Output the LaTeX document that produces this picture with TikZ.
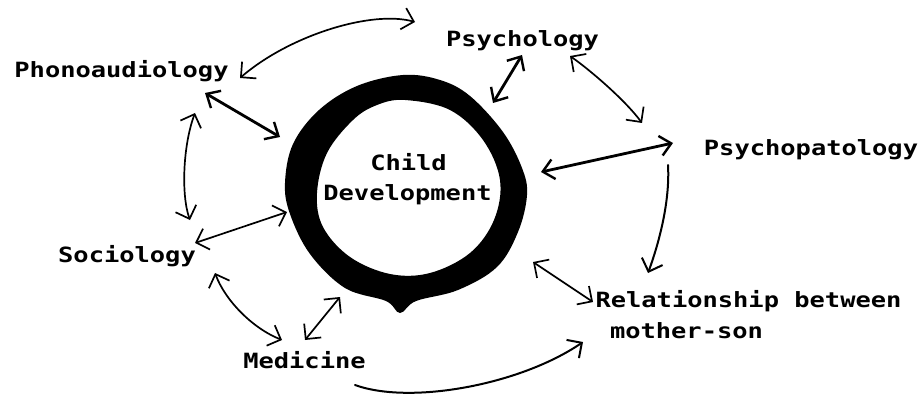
\documentclass[tikz,border=0pt]{standalone}
\usepackage{fontspec}
\setmonofont[FakeStretch=1.21]{DejaVu Sans Mono}
\usetikzlibrary{arrows.meta}
\begin{document}
\begin{tikzpicture}[x=1pt,y=-1pt,
  lbl/.style={font=\ttfamily\bfseries\fontsize{21}{27}\selectfont, inner sep=0pt, outer sep=0pt, anchor=base},
  barb/.tip={Straight Barb[length=11pt,width=22pt,line width=1.7pt]},
  heavybarb/.tip={Straight Barb[length=11pt,width=20pt,line width=2.4pt]},
  link/.style={line width=1.7pt, barb-barb, line cap=round},
  strong/.style={line width=2.8pt, heavybarb-heavybarb, line cap=round},
  oneway/.style={line width=2pt, -{Straight Barb[length=11pt,width=22pt,line width=2pt]}, line cap=round}
]
\useasboundingbox (0,0) rectangle (920,401);

% thick hand-drawn ring around the central topic
\fill[black, even odd rule]
  plot[smooth cycle, tension=0.6] coordinates {
    (403,75) (440,80) (470,96) (503,132) (522,168) (527,195) (518,232)
    (497,267) (458,290) (416,301) (400,313) (386,301) (345,288) (310,254)
    (290,214) (285,183) (293,144) (319,110) (357,86)}
  plot[smooth cycle, tension=0.6] coordinates {
    (405,100) (450,110) (483,140) (500,180) (494,220) (470,253) (430,273)
    (390,274) (350,257) (323,227) (317,193) (327,153) (353,120) (377,105)};

% labels
\node[lbl] (child) at (408.5,170) {Child};
\node[lbl] (dev) at (407.5,200) {Development};
\node[lbl] (phono) at (121.5,78) {Phonoaudiology};
\node[lbl] (psy) at (522.5,47) {Psychology};
\node[lbl] (psypat) at (811,155) {Psychopatology};
\node[lbl] (soc) at (127,262) {Sociology};
\node[lbl] (med) at (304.5,368) {Medicine};
\node[lbl] (rel) at (748.5,307) {Relationship between};
\node[lbl, anchor=base west] (relb) at (610,338) {mother-son};

% points where arrows touch the ring
\coordinate (rPhono) at (280,137);
\coordinate (rPsy) at (493,103);
\coordinate (rPat) at (541,172);
\coordinate (rRel) at (533,262);
\coordinate (rMed) at (340,297);
\coordinate (rSoc) at (287,212);

% links to the central ring
\draw[strong] ([shift={(83.5,15)}]phono.base) -- (rPhono);
\draw[strong] ([shift={(-0.5,8)}]psy.base) -- (rPsy);
\draw[strong] ([shift={(-138,-12)}]psypat.base) -- (rPat);
\draw[link] ([shift={(-155.5,-5)}]rel.base) -- (rRel);
\draw[link] ([shift={(0.5,-28)}]med.base) -- (rMed);
\draw[link] ([shift={(68,-19)}]soc.base) -- (rSoc);

% links between the outer fields
\draw[link] ([shift={(118.5,0)}]phono.base) .. controls (290,35) and (372,10) .. ([shift={(-107.5,-25)}]psy.base);
\draw[link] ([shift={(47.5,9)}]psy.base) .. controls (590,70) and (625,100) .. ([shift={(-169,-32)}]psypat.base);
\draw[oneway] ([shift={(-143,10)}]psypat.base) .. controls (670,200) and (660,240) .. ([shift={(-100.5,-34)}]rel.base);
\draw[oneway] ([shift={(50.5,17)}]med.base) .. controls (410,405) and (520,385) .. ([shift={(-27,4)}]relb.base west);
\draw[link] ([shift={(88,11)}]soc.base) .. controls (225,300) and (252,328) .. ([shift={(-22.5,-28)}]med.base);
\draw[link] ([shift={(73.5,35)}]phono.base) .. controls (183,145) and (181,195) .. ([shift={(63,-42)}]soc.base);
\end{tikzpicture}
\end{document}
